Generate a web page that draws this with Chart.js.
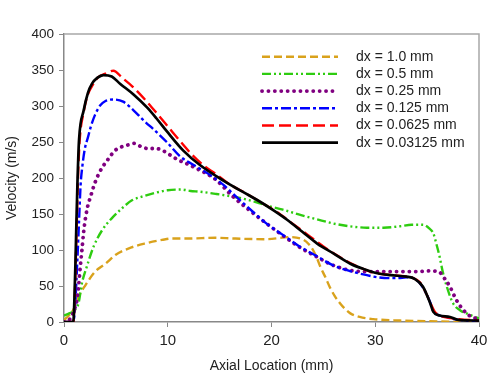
<!DOCTYPE html>
<html>
<head>
<meta charset="utf-8">
<script src="https://cdn.jsdelivr.net/npm/chart.js@4/dist/chart.umd.min.js"></script>
<style>
  html, body { margin: 0; padding: 0; background: #fff; }
  #wrap { width: 500px; height: 377px; }
</style>
</head>
<body>
<div id="wrap"><canvas id="myChart" width="500" height="377"></canvas></div>
<script>
// values (x in mm, y in m/s)
const xTicks = [0, 10, 20, 30, 40];
const yTicks = [0, 50, 100, 150, 200, 250, 300, 350, 400];

const x1 = [0, 0.4, 0.9, 1.4, 2.06, 3.0, 4.0, 4.95, 6.2, 7.8, 9.45, 10.4, 12.0, 14.6, 16.3, 19.5, 21.8, 23.1, 23.6, 24.0, 24.4, 24.7, 25.2, 25.6, 26.1, 26.6, 27.1, 27.6, 28.5, 29.8, 32.4, 35, 40];
const y1 = [3, 8, 17, 35, 51, 70, 81, 93, 102, 109, 114, 116, 116, 117, 116, 115, 118, 114, 108, 100, 88, 77, 62, 49, 36, 26, 18, 12, 7, 4, 2, 1, 0];

const x05 = [0, 0.5, 1.0, 1.4, 1.73, 2.2, 2.86, 3.7, 4.6, 5.6, 6.55, 7.5, 8.7, 10.0, 11.3, 12.2, 13.1, 14.6, 16.3, 17.9, 19.5, 21.1, 22.7, 24.3, 25.9, 27.5, 29.2, 30.8, 32.4, 33.5, 34.6, 35.2, 35.6, 35.9, 36.2, 36.5, 36.9, 37.5, 38.2, 38.8, 39.8, 40];
const y05 = [9, 12, 16, 26, 54, 77, 105, 128, 144, 158, 169, 174, 179, 183, 184, 182, 181, 178, 174, 169, 162, 156, 149, 143, 137, 133, 131, 131, 133, 135, 135, 130, 123, 108, 91, 70, 49, 26, 16, 12, 6, 5];

const x025 = [0, 0.5, 0.8, 1.1, 1.25, 1.4, 1.57, 1.73, 1.9, 2.2, 2.6, 3.0, 3.5, 4.3, 4.9, 5.5, 6.2, 6.8, 7.5, 8.1, 8.8, 9.4, 10.0, 10.9, 11.8, 12.8, 14.6, 16.3, 17.9, 19.5, 21.1, 22.7, 24.3, 25.9, 27.5, 29.0, 29.8, 31, 32.5, 34, 35.3, 36.2, 36.7, 37.2, 37.8, 38.3, 38.8, 39.3, 40];
const y025 = [0, 3, 10, 22, 31, 49, 77, 100, 126, 155, 176, 194, 210, 227, 238, 243, 246, 248, 243, 241, 241, 239, 234, 226, 220, 213, 198, 174, 155, 137, 120, 104, 91, 79, 72, 70, 70, 70, 70, 70, 71, 69, 60, 49, 31, 20, 12, 7, 4];

const x0125 = [0, 0.9, 1.1, 1.3, 1.45, 1.6, 1.8, 2.0, 2.3, 2.6, 3.0, 3.5, 4.0, 4.75, 5.7, 6.7, 7.6, 8.9, 9.9, 11.2, 12.5, 14.1, 15.4, 16.3, 17.9, 19.5, 21.1, 22.7, 24.3, 25.9, 27.5, 29.2, 30.3, 31.4, 32.2, 33, 33.8, 34.4, 34.9, 35.3, 35.6, 36.2, 37, 38, 40];
const y0125 = [0, 0, 30, 90, 140, 190, 220, 240, 256, 272, 288, 301, 307, 309, 306, 294, 281, 264, 250, 230, 218, 204, 190, 178, 157, 137, 121, 105, 92, 79, 71, 65, 62, 61, 61, 62, 60, 52, 40, 27, 15, 9, 6, 3, 1];

const x00625 = [0, 0.9, 1.05, 1.2, 1.35, 1.5, 1.9, 2.3, 2.8, 3.3, 4.0, 4.75, 5.7, 6.6, 7.8, 9.0, 10.1, 11.2, 12.3, 13.5, 14.6, 16, 17.5, 19, 20.5, 22, 23.5, 25, 26.5, 28, 29.5, 31, 32.5, 33.5, 34.3, 34.8, 35.3, 35.7, 36.2, 37, 38, 40];
const y00625 = [0, 0, 40, 120, 200, 250, 292, 316, 330, 340, 345, 349, 338, 327, 309, 289, 270, 251, 233, 217, 206, 191, 179, 166, 153, 137, 121, 105, 91, 79, 70, 66, 64, 62, 55, 43, 27, 15, 9, 6, 4, 2];

const x003125 = [0, 0.9, 1.0, 1.1, 1.2, 1.3, 1.45, 1.9, 2.3, 2.7, 3.2, 3.8, 4.6, 5.4, 6.7, 8.0, 8.9, 9.9, 11.5, 13.1, 15.4, 17.2, 18.9, 20.2, 21.5, 23, 24.4, 26, 27.6, 29, 30.1, 31.5, 33.0, 33.8, 34.6, 35.3, 35.6, 36.2, 37.2, 38, 40];
const y003125 = [0, 0, 30, 80, 140, 195, 253, 294, 318, 331, 339, 343, 341, 331, 316, 298, 283, 265, 238, 218, 196, 181, 167, 155, 142, 125, 109, 95, 81, 73, 68, 65, 63, 60, 49, 26, 14, 9, 7, 3, 2];

const seriesLabels = ['dx = 1.0 mm', 'dx = 0.5 mm', 'dx = 0.25 mm', 'dx = 0.125 mm', 'dx = 0.0625 mm', 'dx = 0.03125 mm'];
const seriesX = [x1, x05, x025, x0125, x00625, x003125];
const seriesY = [y1, y05, y025, y0125, y00625, y003125];
const seriesColors = ['#D9A21C', '#2ECC10', '#800080', '#0000FF', '#FF0000', '#000000'];
const seriesDash = [[8, 4], [9, 3, 2, 3, 2, 3], [0.1, 6.3], [10, 3, 3, 3], [12, 5], []];
const seriesWidth = [2.4, 2.4, 3.8, 2.4, 2.4, 2.7];

const FONT = "'Liberation Sans', Arial, sans-serif";
Chart.defaults.font.family = FONT;
Chart.defaults.color = '#222';

const datasets = seriesLabels.map((label, i) => ({
    label: label,
    data: seriesX[i].map((x, j) => ({ x: x, y: seriesY[i][j] })),
    borderColor: seriesColors[i],
    borderWidth: seriesWidth[i],
    borderDash: seriesDash[i],
    borderCapStyle: i == 2 ? 'round' : 'butt',
    pointRadius: 0,
    cubicInterpolationMode: 'monotone',
    fill: false,
    order: 5 - i
}));

// frame on top/right + in-plot legend
const framePlugin = {
    id: 'frameAndLegend',
    beforeDatasetsDraw(chart) {
        const { ctx, chartArea: a } = chart;
        ctx.save();
        ctx.strokeStyle = '#a8a8a8';
        ctx.lineWidth = 1.5;
        ctx.beginPath();
        ctx.moveTo(a.left, a.top);
        ctx.lineTo(a.right, a.top);
        ctx.lineTo(a.right, a.bottom);
        ctx.stroke();
        ctx.restore();
    },
    afterDraw(chart) {
        const { ctx, chartArea: a } = chart;
        const lx0 = a.left + 198, lx1 = a.left + 274, tx = a.left + 292;
        ctx.save();
        chart.data.datasets.forEach((ds, i) => {
            const y = a.top + 22.7 + i * 17.2;
            ctx.beginPath();
            ctx.strokeStyle = ds.borderColor;
            ctx.lineWidth = ds.borderWidth;
            ctx.lineCap = ds.borderCapStyle;
            ctx.setLineDash(ds.borderDash);
            ctx.moveTo(lx0, y);
            ctx.lineTo(lx1, y);
            ctx.stroke();
            ctx.setLineDash([]);
            ctx.fillStyle = '#222';
            ctx.font = '14px ' + FONT;
            ctx.textBaseline = 'middle';
            ctx.textAlign = 'left';
            ctx.fillText(ds.label, tx, y);
        });
        ctx.restore();
    }
};

const ctx = document.getElementById('myChart').getContext('2d');
const myChart = new Chart(ctx, {
    type: 'line',
    data: { datasets: datasets },
    plugins: [framePlugin],
    options: {
        animation: false,
        responsive: false,
        devicePixelRatio: 1,
        layout: { padding: { top: 34, right: 21, left: 0, bottom: 0 } },
        plugins: {
            legend: { display: false },
            tooltip: { enabled: false }
        },
        scales: {
            x: {
                type: 'linear',
                min: 0,
                max: 40,
                afterFit: s => { s.height = 55; },
                afterBuildTicks: s => { s.ticks = xTicks.map(v => ({ value: v })); },
                grid: { drawOnChartArea: false, drawTicks: true, tickLength: 5, color: '#888' },
                border: { color: '#888', width: 1.5 },
                ticks: { padding: 5, color: '#222', font: { size: 15 }, maxRotation: 0 },
                title: { display: true, text: 'Axial Location (mm)', color: '#222', font: { size: 14 }, padding: { top: 0, bottom: 2 } }
            },
            y: {
                min: 0,
                max: 400,
                afterFit: s => { s.width = 64; },
                afterBuildTicks: s => { s.ticks = yTicks.map(v => ({ value: v })); },
                grid: { drawOnChartArea: false, drawTicks: true, tickLength: 5, color: '#888' },
                border: { color: '#888', width: 1.5 },
                ticks: { padding: 5, color: '#222', font: { size: 13.5 } },
                title: { display: true, text: 'Velocity (m/s)', color: '#222', font: { size: 14 } }
            }
        }
    }
});
</script>
</body>
</html>
